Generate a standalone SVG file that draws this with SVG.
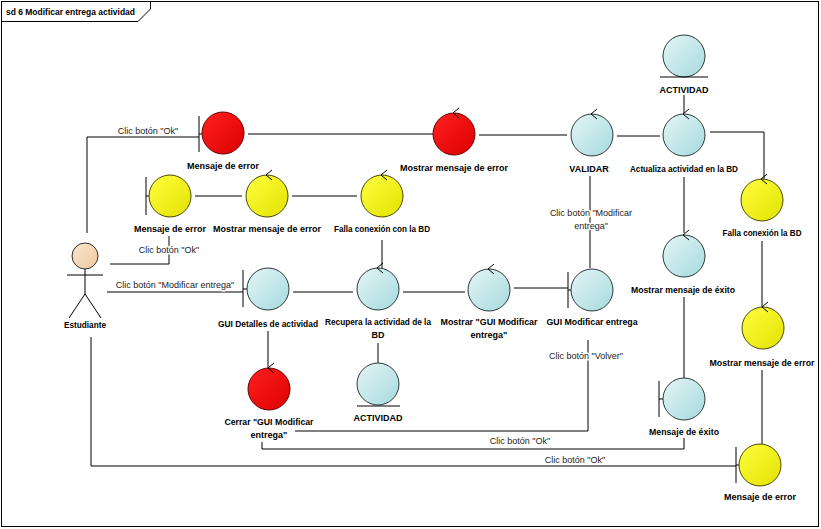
<svg xmlns="http://www.w3.org/2000/svg" width="821" height="529" viewBox="0 0 821 529">
  <defs>
    <linearGradient id="gBlue" x1="0" y1="0" x2="1" y2="1">
      <stop offset="0" stop-color="#e4f5f6"/>
      <stop offset="1" stop-color="#a6dadd"/>
    </linearGradient>
    <linearGradient id="gRed" x1="0" y1="0" x2="1" y2="1">
      <stop offset="0" stop-color="#ff2020"/>
      <stop offset="1" stop-color="#dd0000"/>
    </linearGradient>
    <linearGradient id="gYellow" x1="0" y1="0" x2="1" y2="1">
      <stop offset="0" stop-color="#ffff40"/>
      <stop offset="1" stop-color="#e2e200"/>
    </linearGradient>
    <linearGradient id="gHead" x1="0" y1="0" x2="1" y2="1">
      <stop offset="0" stop-color="#fbe6cc"/>
      <stop offset="1" stop-color="#eec9a0"/>
    </linearGradient>
    <!-- control stereotype arrowhead, relative to circle centre -->
    <path id="ctl" d="M-1,-21 L5,-26 M-1,-21 L5,-16"/>
  </defs>
  <style>
    .frame { fill: #ffffff; stroke: #000; stroke-width: 1; }
    .blue { fill: url(#gBlue); stroke: #2b3a3b; stroke-width: 1; }
    .red { fill: url(#gRed); stroke: #6a0000; stroke-width: 1; }
    .yellow { fill: url(#gYellow); stroke: #4a4a00; stroke-width: 1; }
    .sym { fill: none; stroke: #000; stroke-width: 1; }
    .conn path { fill: none; stroke: #000; stroke-width: 1; }
    .lbl { font-family: "Liberation Sans", Arial, sans-serif; font-size: 9px; font-weight: bold; fill: #000; text-anchor: middle; }
    .clbl { font-family: "Liberation Sans", Arial, sans-serif; font-size: 9px; fill: #222; text-anchor: middle; paint-order: stroke; stroke: #fff; stroke-width: 3px; stroke-linejoin: round; }
    .title { font-family: "Liberation Sans", Arial, sans-serif; font-size: 9.5px; font-weight: bold; fill: #000; }
  </style>

  <!-- diagram frame -->
  <rect class="frame" x="1.5" y="1.5" width="817" height="525"/>
  <path class="sym" d="M1.5,21.5 H138 L150.5,9 V1.5"/>
  <text class="title" x="6" y="15" textLength="129" lengthAdjust="spacingAndGlyphs">sd 6 Modificar entrega actividad</text>

  <!-- connectors -->
  <g id="connectors" class="conn">
    <path d="M87,233 V137 H199"/>
    <path d="M248,134 H433"/>
    <path d="M479,135 H567"/>
    <path d="M617,136 H660"/>
    <path d="M684,95 V113"/>
    <path d="M710,132 H764 V180"/>
    <path d="M684,177 V233"/>
    <path d="M762,241 V307"/>
    <path d="M684,297 V378"/>
    <path d="M762,370 V444"/>
    <path d="M590,176 V268"/>
    <path d="M514,288 H568"/>
    <path d="M403,292 H465"/>
    <path d="M293,292 H353"/>
    <path d="M382,240 V268"/>
    <path d="M292,196 H357"/>
    <path d="M195,196 H242"/>
    <path d="M110,264 H169 V236"/>
    <path d="M107,292 H243"/>
    <path d="M378,343 V363"/>
    <path d="M268,331 V368"/>
    <path d="M588,340 V431 H295"/>
    <path d="M684,438 V449 H262 V442"/>
    <path d="M91,337 V466 H736"/>
    <text class="clbl" x="148" y="134">Clic botón "Ok"</text>
    <text class="clbl" x="169" y="253">Clic botón "Ok"</text>
    <text class="clbl" x="175" y="288">Clic botón "Modificar entrega"</text>
    <text class="clbl" x="591" y="216">Clic botón "Modificar</text>
    <text class="clbl" x="591" y="229">entrega"</text>
    <text class="clbl" x="586" y="359">Clic botón "Volver"</text>
    <text class="clbl" x="520" y="444">Clic botón "Ok"</text>
    <text class="clbl" x="575" y="463">Clic botón "Ok"</text>
  </g>

  <!-- actor -->
  <g id="estudiante">
    <circle cx="85" cy="256" r="13" fill="url(#gHead)" stroke="#333"/>
    <path class="sym" d="M85,269 V294 M67,275 H103 M85,294 L69,318 M85,294 L101,318"/>
    <text class="lbl" x="85" y="328" textLength="42" lengthAdjust="spacingAndGlyphs">Estudiante</text>
  </g>

  <!-- boundaries -->
  <g id="mensaje-error-top">
    <path class="sym" d="M199,116 V152 M199,134 H202"/>
    <circle class="red" cx="223" cy="133" r="21"/>
    <text class="lbl" x="223" y="169">Mensaje de error</text>
  </g>
  <g id="mensaje-error-left">
    <path class="sym" d="M146,177 V215 M146,196 H149"/>
    <circle class="yellow" cx="170" cy="196" r="21"/>
    <text class="lbl" x="170" y="232">Mensaje de error</text>
  </g>
  <g id="gui-detalles">
    <path class="sym" d="M243,270 V307 M243,289 H247"/>
    <circle class="blue" cx="268" cy="289" r="21"/>
    <text class="lbl" x="268" y="327" textLength="100" lengthAdjust="spacingAndGlyphs">GUI Detalles de actividad</text>
  </g>
  <g id="gui-modificar">
    <path class="sym" d="M568,272 V308 M568,290 H571"/>
    <circle class="blue" cx="592" cy="290" r="21"/>
    <text class="lbl" x="592" y="325" textLength="91" lengthAdjust="spacingAndGlyphs">GUI Modificar entrega</text>
  </g>
  <g id="mensaje-exito">
    <path class="sym" d="M659,381 V417 M659,399 H663"/>
    <circle class="blue" cx="684" cy="399" r="21"/>
    <text class="lbl" x="684" y="435" textLength="70" lengthAdjust="spacingAndGlyphs">Mensaje de éxito</text>
  </g>
  <g id="mensaje-error-bottom">
    <path class="sym" d="M736,447 V483 M736,465 H739"/>
    <circle class="yellow" cx="760" cy="465" r="21"/>
    <text class="lbl" x="760" y="500">Mensaje de error</text>
  </g>

  <!-- controls -->
  <g id="mostrar-error-red">
    <circle class="red" cx="454" cy="134" r="21"/>
    <use href="#ctl" x="454" y="134" class="sym"/>
    <text class="lbl" x="454" y="171">Mostrar mensaje de error</text>
  </g>
  <g id="validar">
    <circle class="blue" cx="592" cy="135" r="21"/>
    <use href="#ctl" x="592" y="135" class="sym"/>
    <text class="lbl" x="589" y="172">VALIDAR</text>
  </g>
  <g id="actualiza">
    <circle class="blue" cx="684" cy="135" r="21"/>
    <use href="#ctl" x="684" y="135" class="sym"/>
    <text class="lbl" x="684" y="172" textLength="108" lengthAdjust="spacingAndGlyphs">Actualiza actividad en la BD</text>
  </g>
  <g id="falla-bd">
    <circle class="yellow" cx="762" cy="200" r="21"/>
    <use href="#ctl" x="762" y="200" class="sym"/>
    <text class="lbl" x="762" y="236" textLength="79" lengthAdjust="spacingAndGlyphs">Falla conexión la BD</text>
  </g>
  <g id="mostrar-exito">
    <circle class="blue" cx="684" cy="256" r="21"/>
    <use href="#ctl" x="684" y="256" class="sym"/>
    <text class="lbl" x="683" y="293" textLength="104" lengthAdjust="spacingAndGlyphs">Mostrar mensaje de éxito</text>
  </g>
  <g id="mostrar-error-right">
    <circle class="yellow" cx="763" cy="328" r="21"/>
    <use href="#ctl" x="763" y="328" class="sym"/>
    <text class="lbl" x="762" y="366" textLength="105" lengthAdjust="spacingAndGlyphs">Mostrar mensaje de error</text>
  </g>
  <g id="mostrar-error-yellow">
    <circle class="yellow" cx="267" cy="196" r="21"/>
    <use href="#ctl" x="267" y="196" class="sym"/>
    <text class="lbl" x="267" y="232">Mostrar mensaje de error</text>
  </g>
  <g id="falla-conexion">
    <circle class="yellow" cx="382" cy="196" r="21"/>
    <use href="#ctl" x="382" y="196" class="sym"/>
    <text class="lbl" x="382" y="232" textLength="96" lengthAdjust="spacingAndGlyphs">Falla conexión con la BD</text>
  </g>
  <g id="recupera">
    <circle class="blue" cx="378" cy="289" r="21"/>
    <use href="#ctl" x="378" y="289" class="sym"/>
    <text class="lbl" x="378" y="325" textLength="106" lengthAdjust="spacingAndGlyphs">Recupera la actividad de la</text>
    <text class="lbl" x="378" y="338">BD</text>
  </g>
  <g id="mostrar-gui">
    <circle class="blue" cx="489" cy="290" r="21"/>
    <use href="#ctl" x="489" y="290" class="sym"/>
    <text class="lbl" x="489" y="325" textLength="97" lengthAdjust="spacingAndGlyphs">Mostrar "GUI Modificar</text>
    <text class="lbl" x="489" y="338">entrega"</text>
  </g>
  <g id="cerrar">
    <circle class="red" cx="269" cy="389" r="21"/>
    <use href="#ctl" x="269" y="389" class="sym"/>
    <text class="lbl" x="269" y="425" textLength="89" lengthAdjust="spacingAndGlyphs">Cerrar "GUI Modificar</text>
    <text class="lbl" x="269" y="438">entrega"</text>
  </g>

  <!-- entities -->
  <g id="actividad-top">
    <circle class="blue" cx="684" cy="56" r="21"/>
    <path class="sym" d="M660,77 H708"/>
    <text class="lbl" x="684" y="93">ACTIVIDAD</text>
  </g>
  <g id="actividad-bottom">
    <circle class="blue" cx="378" cy="384" r="21"/>
    <path class="sym" d="M357,406 H400"/>
    <text class="lbl" x="378" y="421">ACTIVIDAD</text>
  </g>
</svg>
